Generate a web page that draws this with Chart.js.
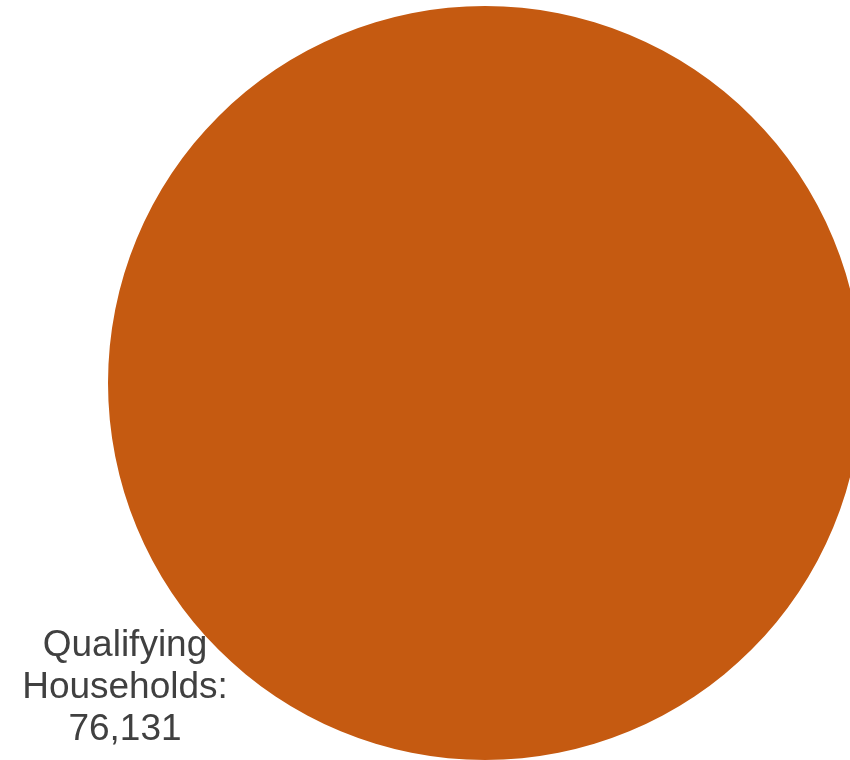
<!DOCTYPE html>
<html>
<head>
<meta charset="utf-8">
<script src="https://cdn.jsdelivr.net/npm/chart.js@4.4.0/dist/chart.umd.min.js"></script>
<style>
  html, body { margin: 0; padding: 0; background: #ffffff; overflow: hidden; }
  #wrap { position: absolute; left: 0; top: 6px; width: 970px; height: 754px; }
</style>
</head>
<body>
<div id="wrap"><canvas id="pie-chart"></canvas></div>
<script>
// ---- Data ----
const categories = ['Qualifying Households'];
const values = [76131];
const sliceColors = ['#C55A11'];

// Label drawn at lower-left of the pie
const sliceLabelPlugin = {
    id: 'sliceLabel',
    afterDraw(chart) {
        const ctx = chart.ctx;
        const arc = chart.getDatasetMeta(0).data[0];
        const cx = arc.x - 360;
        const cy = arc.y + 305;
        const lines = ['Qualifying', 'Households:', values[0].toLocaleString('en-US')];
        ctx.save();
        ctx.fillStyle = '#404040';
        ctx.font = '37px "Liberation Sans", Arial, sans-serif';
        ctx.textAlign = 'center';
        ctx.textBaseline = 'middle';
        lines.forEach(function (line, i) {
            ctx.fillText(line, cx, cy + (i - 1) * 42);
        });
        ctx.restore();
    }
};

const canvas = document.getElementById('pie-chart');
new Chart(canvas.getContext('2d'), {
    type: 'pie',
    data: {
        labels: categories,
        datasets: [{
            data: values,
            backgroundColor: sliceColors,
            borderWidth: 0
        }]
    },
    options: {
        responsive: true,
        maintainAspectRatio: false,
        animation: false,
        layout: { padding: 0 },
        plugins: {
            legend: { display: false },
            tooltip: { enabled: false }
        }
    },
    plugins: [sliceLabelPlugin]
});
</script>
</body>
</html>
